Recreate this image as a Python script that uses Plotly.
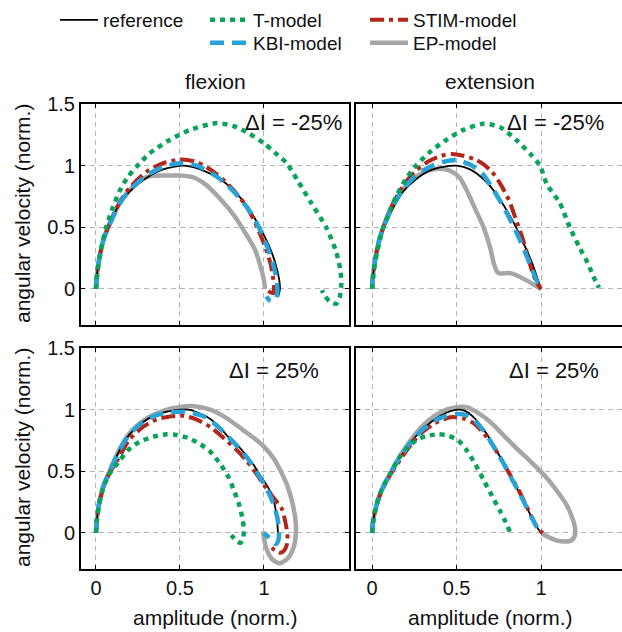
import plotly.graph_objects as go

# ---------------- data ----------------
# Panel A: flexion, dI = -25%
ref_A_x = [0, 0.005, 0.02, 0.045, 0.08, 0.14, 0.2, 0.3, 0.4, 0.52, 0.62, 0.74, 0.82, 0.9, 0.975, 1.03, 1.065, 1.09, 1.095, 1.085]
ref_A_y = [0, 0.1, 0.25, 0.4, 0.52, 0.69, 0.79, 0.9, 0.97, 1.0, 0.97, 0.89, 0.8, 0.67, 0.5, 0.35, 0.22, 0.08, 0.0, -0.06]
kbi_A_x = [0, 0.005, 0.02, 0.045, 0.08, 0.14, 0.2, 0.3, 0.4, 0.5, 0.6, 0.72, 0.82, 0.9, 0.97, 1.02, 1.055, 1.075, 1.08, 1.07, 1.05, 1.03, 1.015]
kbi_A_y = [0, 0.1, 0.25, 0.4, 0.52, 0.69, 0.8, 0.92, 0.99, 1.02, 1.0, 0.91, 0.79, 0.66, 0.5, 0.34, 0.2, 0.08, -0.02, -0.08, -0.1, -0.09, -0.06]
stim_A_x = [0, 0.005, 0.02, 0.045, 0.08, 0.14, 0.2, 0.3, 0.4, 0.5, 0.6, 0.72, 0.82, 0.9, 0.96, 1.01, 1.04, 1.055, 1.06, 1.055, 1.035, 1.01]
stim_A_y = [0, 0.1, 0.25, 0.4, 0.53, 0.7, 0.82, 0.95, 1.02, 1.05, 1.03, 0.93, 0.8, 0.66, 0.5, 0.33, 0.2, 0.08, 0.0, -0.035, -0.025, 0.0]
ep_A_x = [0, 0.005, 0.02, 0.045, 0.08, 0.14, 0.2, 0.26, 0.32, 0.4, 0.5, 0.58, 0.65, 0.74, 0.82, 0.9, 0.946, 0.98, 1.0, 1.006]
ep_A_y = [0, 0.1, 0.25, 0.4, 0.52, 0.69, 0.8, 0.88, 0.915, 0.92, 0.92, 0.905, 0.85, 0.73, 0.6, 0.43, 0.32, 0.18, 0.07, 0.0]
t_A_x = [0, 0.01, 0.03, 0.063, 0.1, 0.143, 0.19, 0.24, 0.32, 0.44, 0.56, 0.72, 0.82, 0.9, 1.0, 1.07, 1.135, 1.2, 1.28, 1.37, 1.43, 1.455, 1.46, 1.45, 1.43, 1.39, 1.36, 1.345]
t_A_y = [0, 0.15, 0.32, 0.51, 0.66, 0.8, 0.91, 0.99, 1.1, 1.21, 1.29, 1.345, 1.32, 1.27, 1.18, 1.1, 1.02, 0.88, 0.7, 0.5, 0.3, 0.15, 0.03, -0.07, -0.12, -0.1, -0.05, -0.01]

# Panel B: extension, dI = -25%
ref_B_x = [0, 0.005, 0.02, 0.045, 0.08, 0.13, 0.19, 0.26, 0.34, 0.42, 0.5, 0.58, 0.66, 0.73, 0.8, 0.86, 0.91, 0.95, 0.98, 1.0]
ref_B_y = [0, 0.1, 0.25, 0.4, 0.53, 0.67, 0.8, 0.89, 0.96, 0.99, 1.0, 0.97, 0.89, 0.78, 0.63, 0.48, 0.33, 0.2, 0.08, 0.0]
kbi_B_x = [0, 0.005, 0.02, 0.045, 0.08, 0.13, 0.19, 0.26, 0.34, 0.42, 0.5, 0.58, 0.65, 0.72, 0.78, 0.84, 0.89, 0.935, 0.97, 1.0]
kbi_B_y = [0, 0.1, 0.25, 0.41, 0.54, 0.69, 0.82, 0.92, 0.99, 1.03, 1.045, 1.01, 0.94, 0.8, 0.66, 0.5, 0.35, 0.2, 0.08, 0.0]
stim_B_x = [0, 0.005, 0.02, 0.045, 0.08, 0.13, 0.19, 0.26, 0.34, 0.41, 0.47, 0.54, 0.61, 0.66, 0.71, 0.76, 0.81, 0.85, 0.886, 0.92, 0.945, 0.975, 1.0]
stim_B_y = [0, 0.1, 0.25, 0.41, 0.55, 0.71, 0.85, 0.96, 1.04, 1.08, 1.095, 1.08, 1.05, 1.01, 0.95, 0.85, 0.72, 0.57, 0.43, 0.28, 0.15, 0.05, 0.0]
ep_B_x = [0, 0.005, 0.02, 0.045, 0.08, 0.13, 0.19, 0.26, 0.33, 0.4, 0.46, 0.52, 0.56, 0.61, 0.66, 0.7, 0.72, 0.74, 0.76, 0.8, 0.83, 0.9, 1.0]
ep_B_y = [0, 0.1, 0.25, 0.41, 0.55, 0.7, 0.82, 0.91, 0.96, 0.975, 0.96, 0.9, 0.8, 0.65, 0.5, 0.33, 0.21, 0.14, 0.125, 0.13, 0.125, 0.08, 0.0]
t_B_x = [0, 0.01, 0.03, 0.06, 0.1, 0.15, 0.2, 0.26, 0.35, 0.44, 0.54, 0.66, 0.76, 0.86, 0.94, 0.994, 1.034, 1.11, 1.17, 1.23, 1.28, 1.31, 1.343]
t_B_y = [0, 0.14, 0.3, 0.47, 0.62, 0.77, 0.89, 1.0, 1.12, 1.21, 1.29, 1.34, 1.31, 1.2, 1.09, 1.0, 0.85, 0.7, 0.5, 0.33, 0.2, 0.1, 0.01]

# Panel C: flexion, dI = 25%
ref_C_x = [0, 0.005, 0.02, 0.045, 0.083, 0.14, 0.2, 0.28, 0.36, 0.45, 0.55, 0.65, 0.72, 0.78, 0.85, 0.9, 0.94, 0.976, 1.02, 1.05, 1.068, 1.078, 1.083, 1.083]
ref_C_y = [0, 0.1, 0.25, 0.38, 0.5, 0.67, 0.8, 0.9, 0.96, 0.99, 1.0, 0.95, 0.88, 0.79, 0.7, 0.62, 0.55, 0.47, 0.38, 0.3, 0.2, 0.1, 0.0, -0.09]
kbi_C_x = [0, 0.005, 0.02, 0.045, 0.083, 0.14, 0.2, 0.28, 0.36, 0.45, 0.55, 0.65, 0.72, 0.78, 0.85, 0.9, 0.95, 0.99, 1.03, 1.06, 1.08, 1.09, 1.085, 1.07, 1.04, 1.0]
kbi_C_y = [0, 0.1, 0.25, 0.38, 0.5, 0.67, 0.8, 0.9, 0.955, 0.98, 0.98, 0.94, 0.87, 0.79, 0.69, 0.61, 0.51, 0.42, 0.32, 0.22, 0.12, 0.02, -0.06, -0.09, -0.05, 0.0]
stim_C_x = [0, 0.005, 0.02, 0.045, 0.083, 0.14, 0.2, 0.28, 0.36, 0.44, 0.52, 0.6, 0.68, 0.76, 0.84, 0.9, 0.96, 1.01, 1.06, 1.105, 1.13, 1.14, 1.135, 1.115, 1.095, 1.065, 1.046]
stim_C_y = [0, 0.1, 0.24, 0.37, 0.49, 0.62, 0.76, 0.86, 0.92, 0.945, 0.95, 0.92, 0.86, 0.77, 0.67, 0.58, 0.47, 0.37, 0.28, 0.2, 0.07, -0.02, -0.1, -0.15, -0.16, -0.14, -0.12]
ep_C_x = [0, 0.005, 0.02, 0.045, 0.083, 0.14, 0.2, 0.28, 0.36, 0.45, 0.57, 0.68, 0.78, 0.87, 0.94, 1.0, 1.06, 1.1, 1.14, 1.17, 1.188, 1.19, 1.18, 1.145, 1.095, 1.05, 1.015, 1.0, 0.995]
ep_C_y = [0, 0.1, 0.25, 0.39, 0.51, 0.68, 0.81, 0.91, 0.97, 1.01, 1.03, 1.0, 0.93, 0.84, 0.77, 0.7, 0.6, 0.5, 0.38, 0.24, 0.1, 0.0, -0.1, -0.2, -0.245, -0.215, -0.13, -0.04, 0.015]
t_C_x = [0, 0.005, 0.02, 0.045, 0.08, 0.143, 0.19, 0.26, 0.34, 0.42, 0.48, 0.55, 0.62, 0.68, 0.74, 0.79, 0.82, 0.85, 0.87, 0.88, 0.875, 0.86, 0.84, 0.82, 0.8]
t_C_y = [0, 0.1, 0.24, 0.37, 0.48, 0.59, 0.67, 0.74, 0.78, 0.8, 0.795, 0.77, 0.72, 0.66, 0.56, 0.45, 0.35, 0.24, 0.13, 0.03, -0.05, -0.08, -0.07, -0.04, -0.01]

# Panel D: extension, dI = 25%
ref_D_x = [0, 0.005, 0.02, 0.045, 0.075, 0.107, 0.15, 0.2, 0.25, 0.3, 0.37, 0.44, 0.51, 0.55, 0.6, 0.66, 0.72, 0.78, 0.83, 0.87, 0.91, 0.94, 0.97, 1.0]
ref_D_y = [0, 0.08, 0.19, 0.31, 0.4, 0.48, 0.58, 0.68, 0.77, 0.84, 0.92, 0.975, 1.0, 0.99, 0.94, 0.84, 0.71, 0.56, 0.43, 0.33, 0.22, 0.14, 0.06, 0.0]
kbi_D_x = [0, 0.005, 0.02, 0.045, 0.075, 0.107, 0.15, 0.2, 0.25, 0.3, 0.37, 0.44, 0.5, 0.55, 0.6, 0.66, 0.72, 0.78, 0.83, 0.87, 0.91, 0.94, 0.97, 1.0]
kbi_D_y = [0, 0.08, 0.19, 0.31, 0.4, 0.48, 0.58, 0.68, 0.77, 0.84, 0.91, 0.95, 0.965, 0.96, 0.92, 0.83, 0.7, 0.56, 0.43, 0.33, 0.22, 0.14, 0.06, 0.0]
stim_D_x = [0, 0.005, 0.02, 0.045, 0.075, 0.107, 0.15, 0.2, 0.25, 0.3, 0.37, 0.44, 0.48, 0.55, 0.6, 0.66, 0.72, 0.78, 0.83, 0.87, 0.91, 0.94, 0.975, 1.01]
stim_D_y = [0, 0.08, 0.19, 0.3, 0.39, 0.47, 0.56, 0.66, 0.75, 0.82, 0.89, 0.93, 0.94, 0.925, 0.89, 0.81, 0.7, 0.56, 0.44, 0.34, 0.23, 0.14, 0.05, 0.0]
ep_D_x = [0, 0.005, 0.02, 0.045, 0.075, 0.107, 0.15, 0.2, 0.25, 0.3, 0.37, 0.44, 0.5, 0.56, 0.62, 0.7, 0.78, 0.86, 0.93, 0.99, 1.05, 1.1, 1.15, 1.18, 1.2, 1.2, 1.18, 1.14, 1.09, 1.04, 1.0]
ep_D_y = [0, 0.08, 0.19, 0.31, 0.4, 0.48, 0.59, 0.7, 0.79, 0.87, 0.95, 1.0, 1.02, 1.02, 0.98, 0.9, 0.79, 0.68, 0.59, 0.51, 0.42, 0.33, 0.23, 0.14, 0.05, -0.02, -0.06, -0.07, -0.06, -0.03, 0.0]
t_D_x = [0, 0.005, 0.02, 0.045, 0.075, 0.107, 0.166, 0.21, 0.264, 0.32, 0.39, 0.45, 0.51, 0.56, 0.61, 0.66, 0.71, 0.757, 0.79, 0.817]
t_D_y = [0, 0.08, 0.19, 0.31, 0.4, 0.48, 0.62, 0.69, 0.755, 0.785, 0.8, 0.79, 0.75, 0.67, 0.56, 0.43, 0.3, 0.18, 0.09, 0.005]

panel_titles = ["flexion", "extension"]
delta_labels = ["\u0394I = -25%", "\u0394I = -25%", "\u0394I = 25%", "\u0394I = 25%"]
x_title = "amplitude (norm.)"
y_title = "angular velocity (norm.)"
x_ticks = [0, 0.5, 1]
y_ticks = [0, 0.5, 1, 1.5]

# ---------------- styles ----------------
FONT = "Liberation Sans, Arial, Helvetica, sans-serif"
C_REF = "#000000"
C_T = "#0aa35a"
C_KBI = "#27a3d8"
C_STIM = "#b3261a"
C_EP = "#a6a6a6"

series_styles = {
    "EP-model": dict(color=C_EP, width=4.5, dash="solid"),
    "reference": dict(color=C_REF, width=1.8, dash="solid"),
    "STIM-model": dict(color=C_STIM, width=4, dash="14px,5px,4px,5px"),
    "KBI-model": dict(color=C_KBI, width=4.5, dash="14px,8px"),
    "T-model": dict(color=C_T, width=4.5, dash="5px,5px"),
}
legend_of = {"reference": "legend", "T-model": "legend2", "KBI-model": "legend3",
             "STIM-model": "legend4", "EP-model": "legend5"}

panels = [
    ("x", "y", {"EP-model": (ep_A_x, ep_A_y), "reference": (ref_A_x, ref_A_y), "STIM-model": (stim_A_x, stim_A_y),
                "KBI-model": (kbi_A_x, kbi_A_y), "T-model": (t_A_x, t_A_y)}),
    ("x2", "y2", {"EP-model": (ep_B_x, ep_B_y), "reference": (ref_B_x, ref_B_y), "STIM-model": (stim_B_x, stim_B_y),
                  "KBI-model": (kbi_B_x, kbi_B_y), "T-model": (t_B_x, t_B_y)}),
    ("x3", "y3", {"EP-model": (ep_C_x, ep_C_y), "reference": (ref_C_x, ref_C_y), "STIM-model": (stim_C_x, stim_C_y),
                  "KBI-model": (kbi_C_x, kbi_C_y), "T-model": (t_C_x, t_C_y)}),
    ("x4", "y4", {"EP-model": (ep_D_x, ep_D_y), "reference": (ref_D_x, ref_D_y), "STIM-model": (stim_D_x, stim_D_y),
                  "KBI-model": (kbi_D_x, kbi_D_y), "T-model": (t_D_x, t_D_y)}),
]

fig = go.Figure()
for pi, (xa, ya, series) in enumerate(panels):
    for name, (xs, ys) in series.items():
        st = series_styles[name]
        fig.add_trace(go.Scatter(
            x=xs, y=ys, xaxis=xa, yaxis=ya, mode="lines", name=name,
            line=dict(color=st["color"], width=st["width"], dash=st["dash"], shape="spline", smoothing=0.7),
            showlegend=(pi == 0), legend=legend_of[name],
            hoverinfo="skip",
        ))

W, H = 622, 632
ML, MR, MT, MB = 81, 0, 104, 63
PW, PH = W - ML - MR, H - MT - MB

def xdom(a, b):
    return [(a - ML) / PW, min(1.0, (b - ML) / PW)]

def ydom(top, bot):
    return [(H - MB - bot) / PH, (H - MB - top) / PH]

def px_x(x):
    return (x - ML) / PW

def px_y(y):
    return (H - MB - y) / PH

grid = dict(showgrid=True, gridcolor="#b5b5b5", gridwidth=1, griddash="5px,4px", zeroline=False,
            showline=True, linecolor="black", linewidth=2, ticks="inside", ticklen=4, tickcolor="black",
            tickfont=dict(family=FONT, size=20, color="#111"), automargin=False)

xr_left = [-0.089, 1.506]
xr_right = [-0.095, 1.479]
yr = [-0.292, 1.5]

layout_axes = {}
for i, (xd, yd, xr, left, bottom) in enumerate([
    (xdom(81, 349), ydom(104, 325), xr_left, True, False),
    (xdom(356, 624), ydom(104, 325), xr_right, False, False),
    (xdom(81, 349), ydom(348, 569), xr_left, True, True),
    (xdom(356, 624), ydom(348, 569), xr_right, False, True),
]):
    sfx = "" if i == 0 else str(i + 1)
    layout_axes["xaxis" + sfx] = dict(grid, domain=xd, range=xr, anchor="y" + sfx, tickvals=x_ticks,
                                      showticklabels=bottom, mirror="allticks")
    layout_axes["yaxis" + sfx] = dict(grid, domain=yd, range=yr, anchor="x" + sfx, tickvals=y_ticks,
                                      showticklabels=left, mirror=("allticks" if left else False))

annotations = []
def px_ann(text, x, y, size, xanchor="center", **kw):
    annotations.append(dict(text=text, xref="paper", yref="paper",
                            x=px_x(x), y=px_y(y), showarrow=False, xanchor=xanchor, yanchor="middle",
                            font=dict(family=FONT, size=size, color="#111"), **kw))

px_ann(panel_titles[0], 215, 82, 21)
px_ann(panel_titles[1], 490, 82, 21)
px_ann(x_title, 215, 617, 21)
px_ann(x_title, 490, 617, 21)
px_ann(y_title, 22, 214, 21, textangle=-90)
px_ann(y_title, 22, 458, 21, textangle=-90)
px_ann(delta_labels[0], 344, 122, 22, xanchor="right")
px_ann(delta_labels[1], 606, 122, 22, xanchor="right")
px_ann(delta_labels[2], 321, 370, 22, xanchor="right")
px_ann(delta_labels[3], 601, 370, 22, xanchor="right")

leg_common = dict(xref="paper", yref="paper", xanchor="left", yanchor="top", orientation="v",
                  bgcolor="rgba(0,0,0,0)", borderwidth=0, tracegroupgap=0, itemwidth=38,
                  font=dict(family=FONT, size=19, color="#111"))

fig.update_layout(
    width=W, height=H, margin=dict(l=ML, r=MR, t=MT, b=MB, autoexpand=False),
    paper_bgcolor="white", plot_bgcolor="white",
    annotations=annotations,
    legend=dict(leg_common, x=px_x(55), y=px_y(1)),
    legend2=dict(leg_common, x=px_x(205), y=px_y(1)),
    legend3=dict(leg_common, x=px_x(205), y=px_y(24)),
    legend4=dict(leg_common, x=px_x(365), y=px_y(1)),
    legend5=dict(leg_common, x=px_x(365), y=px_y(24)),
    **layout_axes,
)

fig.write_html("out.html")
